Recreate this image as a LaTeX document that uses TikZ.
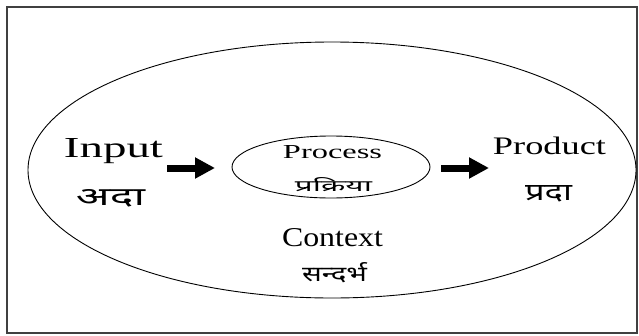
\documentclass[tikz,border=0pt]{standalone}
\usepackage{fontspec}
\usepackage{graphicx}
\setmainfont{Liberation Serif}
\newfontfamily\deva[Script=Devanagari]{Noto Sans}
\usetikzlibrary{shapes.geometric,arrows.meta}
\begin{document}
\begin{tikzpicture}[x=1pt,y=-1pt,
  frame/.style={draw=black!75,line width=2pt},
  oval/.style={draw,ellipse,line width=0.9pt,inner sep=0pt},
  lbl/.style={anchor=base,inner sep=0pt,text=black},
  bigarrow/.style={line width=7pt,-{Triangle[length=20pt,width=20pt]}}]
\useasboundingbox (0,0) rectangle (639,335);
\fill[white] (0,0) rectangle (639,335);
\draw[frame] (7,7) rectangle (637,333);
\node[oval,minimum width=608pt,minimum height=256pt] (context) at (332,170) {};
\node[oval,minimum width=198pt,minimum height=62pt] (process) at (331,167) {};
% Latin labels
\node[lbl] (input) at (113.5,157) {\resizebox{99pt}{19pt}{Input}};
\node[lbl] (product) at (549.5,154) {\resizebox{113pt}{17.5pt}{Product}};
\node[lbl] (proctext) at (332.5,158) {\resizebox{99pt}{13pt}{Process}};
\node[lbl] (contexttext) at (332.5,246) {\resizebox{101pt}{18pt}{Context}};
% Devanagari labels
\node[lbl] (inputhi) at (110.5,205) {\resizebox{69pt}{16pt}{\deva अदा}};
\node[lbl] (producthi) at (548.5,200) {\resizebox{47pt}{15pt}{\deva प्रदा}};
\node[lbl] (processhi) at (333.5,191) {\resizebox{77pt}{14pt}{\deva प्रक्रिया}};
\node[lbl] (contexthi) at (334.5,281) {\resizebox{65pt}{19pt}{\deva सन्दर्भ}};
% arrows
\coordinate (a1s) at (167,168);
\coordinate (a1e) at (215,168);
\coordinate (a2s) at (441,168);
\coordinate (a2e) at (489,168);
\draw[bigarrow] (a1s) -- (a1e);
\draw[bigarrow] (a2s) -- (a2e);
\end{tikzpicture}
\end{document}
